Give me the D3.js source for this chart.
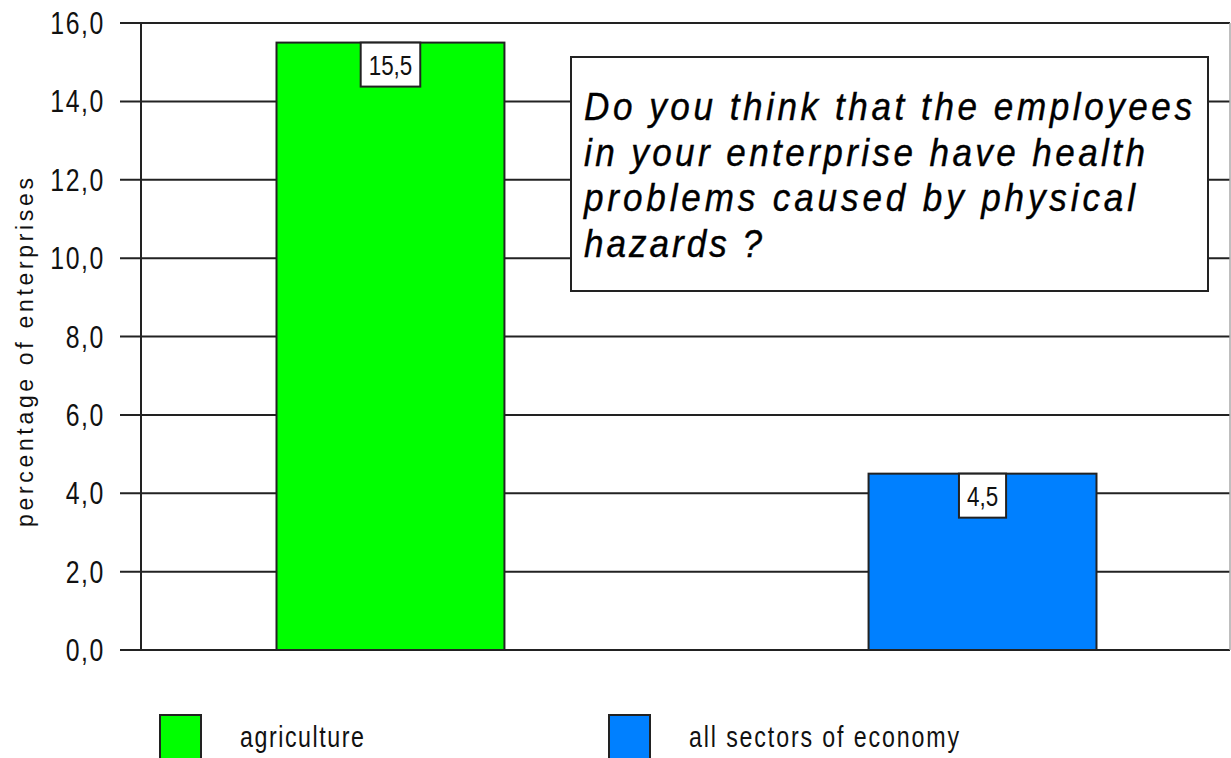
<!DOCTYPE html>
<html>
<head>
<meta charset="utf-8">
<script src="https://cdn.jsdelivr.net/npm/d3@7"></script>
<style>
  body { margin: 0; background: #fff; }
  text { font-family: "Liberation Sans", Arial, sans-serif; }
</style>
</head>
<body>
<div id="chart-area"></div>
<script>
// DATA
// ****
let categories = ["agriculture", "all sectors of economy"]
let values = [15.5, 4.5]
let colors = ["#00ff00", "#0080ff"]
let ticks = [0, 2, 4, 6, 8, 10, 12, 14, 16]
let question = ["Do you think that the employees", "in your enterprise have health", "problems caused by physical", "hazards ?"]

let width = 1231
let height = 758
let fmt = d => d3.format(".1f")(d).replace(".", ",")
let sx = 0.8   // squeeze glyphs like the narrow bitmap font

let svg = d3.select("#chart-area")
  .append("svg")
    .attr("width", width)
    .attr("height", height)

// SCALES
// ******
let y = d3.scaleLinear().domain([0, 16]).range([650, 23])
let x = d3.scaleBand().domain(categories).range([143, 1230]).paddingInner(0.615).paddingOuter(0.2255)

// GRID + AXIS
// ***********
let grid = svg.append("g").attr("class", "grid")
grid.selectAll("line").data(ticks).enter()
  .append("line")
    .attr("x1", 120).attr("x2", 1230)
    .attr("y1", d => y(d)).attr("y2", d => y(d))
    .attr("stroke", "#222").attr("stroke-width", 2)

svg.append("line")
  .attr("x1", 141).attr("x2", 141)
  .attr("y1", y(16)).attr("y2", y(0))
  .attr("stroke", "#222").attr("stroke-width", 2)

svg.append("line")
  .attr("x1", 1230).attr("x2", 1230)
  .attr("y1", y(16)).attr("y2", y(0))
  .attr("stroke", "#aaa").attr("stroke-width", 1.5)

svg.append("g").selectAll("text").data(ticks).enter()
  .append("text")
    .attr("transform", d => "translate(105," + (y(d) + 11) + ") scale(" + sx + ",1)")
    .attr("text-anchor", "end")
    .attr("font-size", "31px")
    .attr("letter-spacing", "2px")
    .attr("fill", "#111")
    .text(d => fmt(d))

// Y label
svg.append("text")
  .attr("transform", "translate(33, 527) rotate(-90)")
  .attr("font-size", "23px")
  .attr("textLength", 349)
  .attr("lengthAdjust", "spacing")
  .attr("fill", "#111")
  .text("percentage of enterprises")

// BARS
// ****
svg.append("g").selectAll("rect").data(values).enter()
  .append("rect")
    .attr("x", (d, i) => x(categories[i]))
    .attr("y", d => y(d))
    .attr("width", x.bandwidth())
    .attr("height", d => y(0) - y(d))
    .attr("fill", (d, i) => colors[i])
    .attr("stroke", "#222").attr("stroke-width", 2)

// value labels
let lbl = svg.append("g").selectAll("g").data(values).enter()
  .append("g")
    .attr("transform", (d, i) => "translate(" + (x(categories[i]) + x.bandwidth() / 2) + "," + y(d) + ")")

lbl.append("text")
  .attr("transform", "translate(0,32) scale(" + sx + ",1)")
  .attr("text-anchor", "middle")
  .attr("font-size", "28px")
  .attr("fill", "#111")
  .text(d => fmt(d))

lbl.each(function() {
  let t = d3.select(this).select("text")
  let w = t.node().getComputedTextLength() * sx + 16
  d3.select(this).insert("rect", "text")
    .attr("x", -w / 2).attr("y", 0)
    .attr("width", w).attr("height", 44)
    .attr("fill", "#fff")
    .attr("stroke", "#222").attr("stroke-width", 2)
})

// QUESTION BOX
// ************
svg.append("rect")
  .attr("x", 571).attr("y", 57)
  .attr("width", 637).attr("height", 234)
  .attr("fill", "#fff")
  .attr("stroke", "#222").attr("stroke-width", 2)

let qs = 0.9
let lineWidths = [608, 561, 551, 178]
svg.append("g").selectAll("text").data(question).enter()
  .append("text")
    .attr("transform", (d, i) => "translate(584," + (120 + i * 45.5) + ") scale(" + qs + ",1)")
    .attr("font-style", "italic")
    .attr("font-size", "39px")
    .attr("stroke", "#000").attr("stroke-width", 0.4)
    .attr("textLength", (d, i) => lineWidths[i] / qs)
    .attr("lengthAdjust", "spacing")
    .attr("fill", "#000")
    .text(d => d)

// LEGEND
// ******
let legendX = [160, 609]
let legendW = [124, 270]
let leg = svg.append("g").selectAll("g").data(categories).enter()
  .append("g")
    .attr("transform", (d, i) => "translate(" + legendX[i] + ", 715)")

leg.append("rect")
  .attr("width", 41).attr("height", 50)
  .attr("fill", (d, i) => colors[i])
  .attr("stroke", "#222").attr("stroke-width", 2)

leg.append("text")
  .attr("transform", "translate(80,32) scale(" + sx + ",1)")
  .attr("font-size", "29px")
  .attr("textLength", (d, i) => legendW[i] / sx)
  .attr("lengthAdjust", "spacing")
  .attr("fill", "#111")
  .text(d => d)
</script>
</body>
</html>
